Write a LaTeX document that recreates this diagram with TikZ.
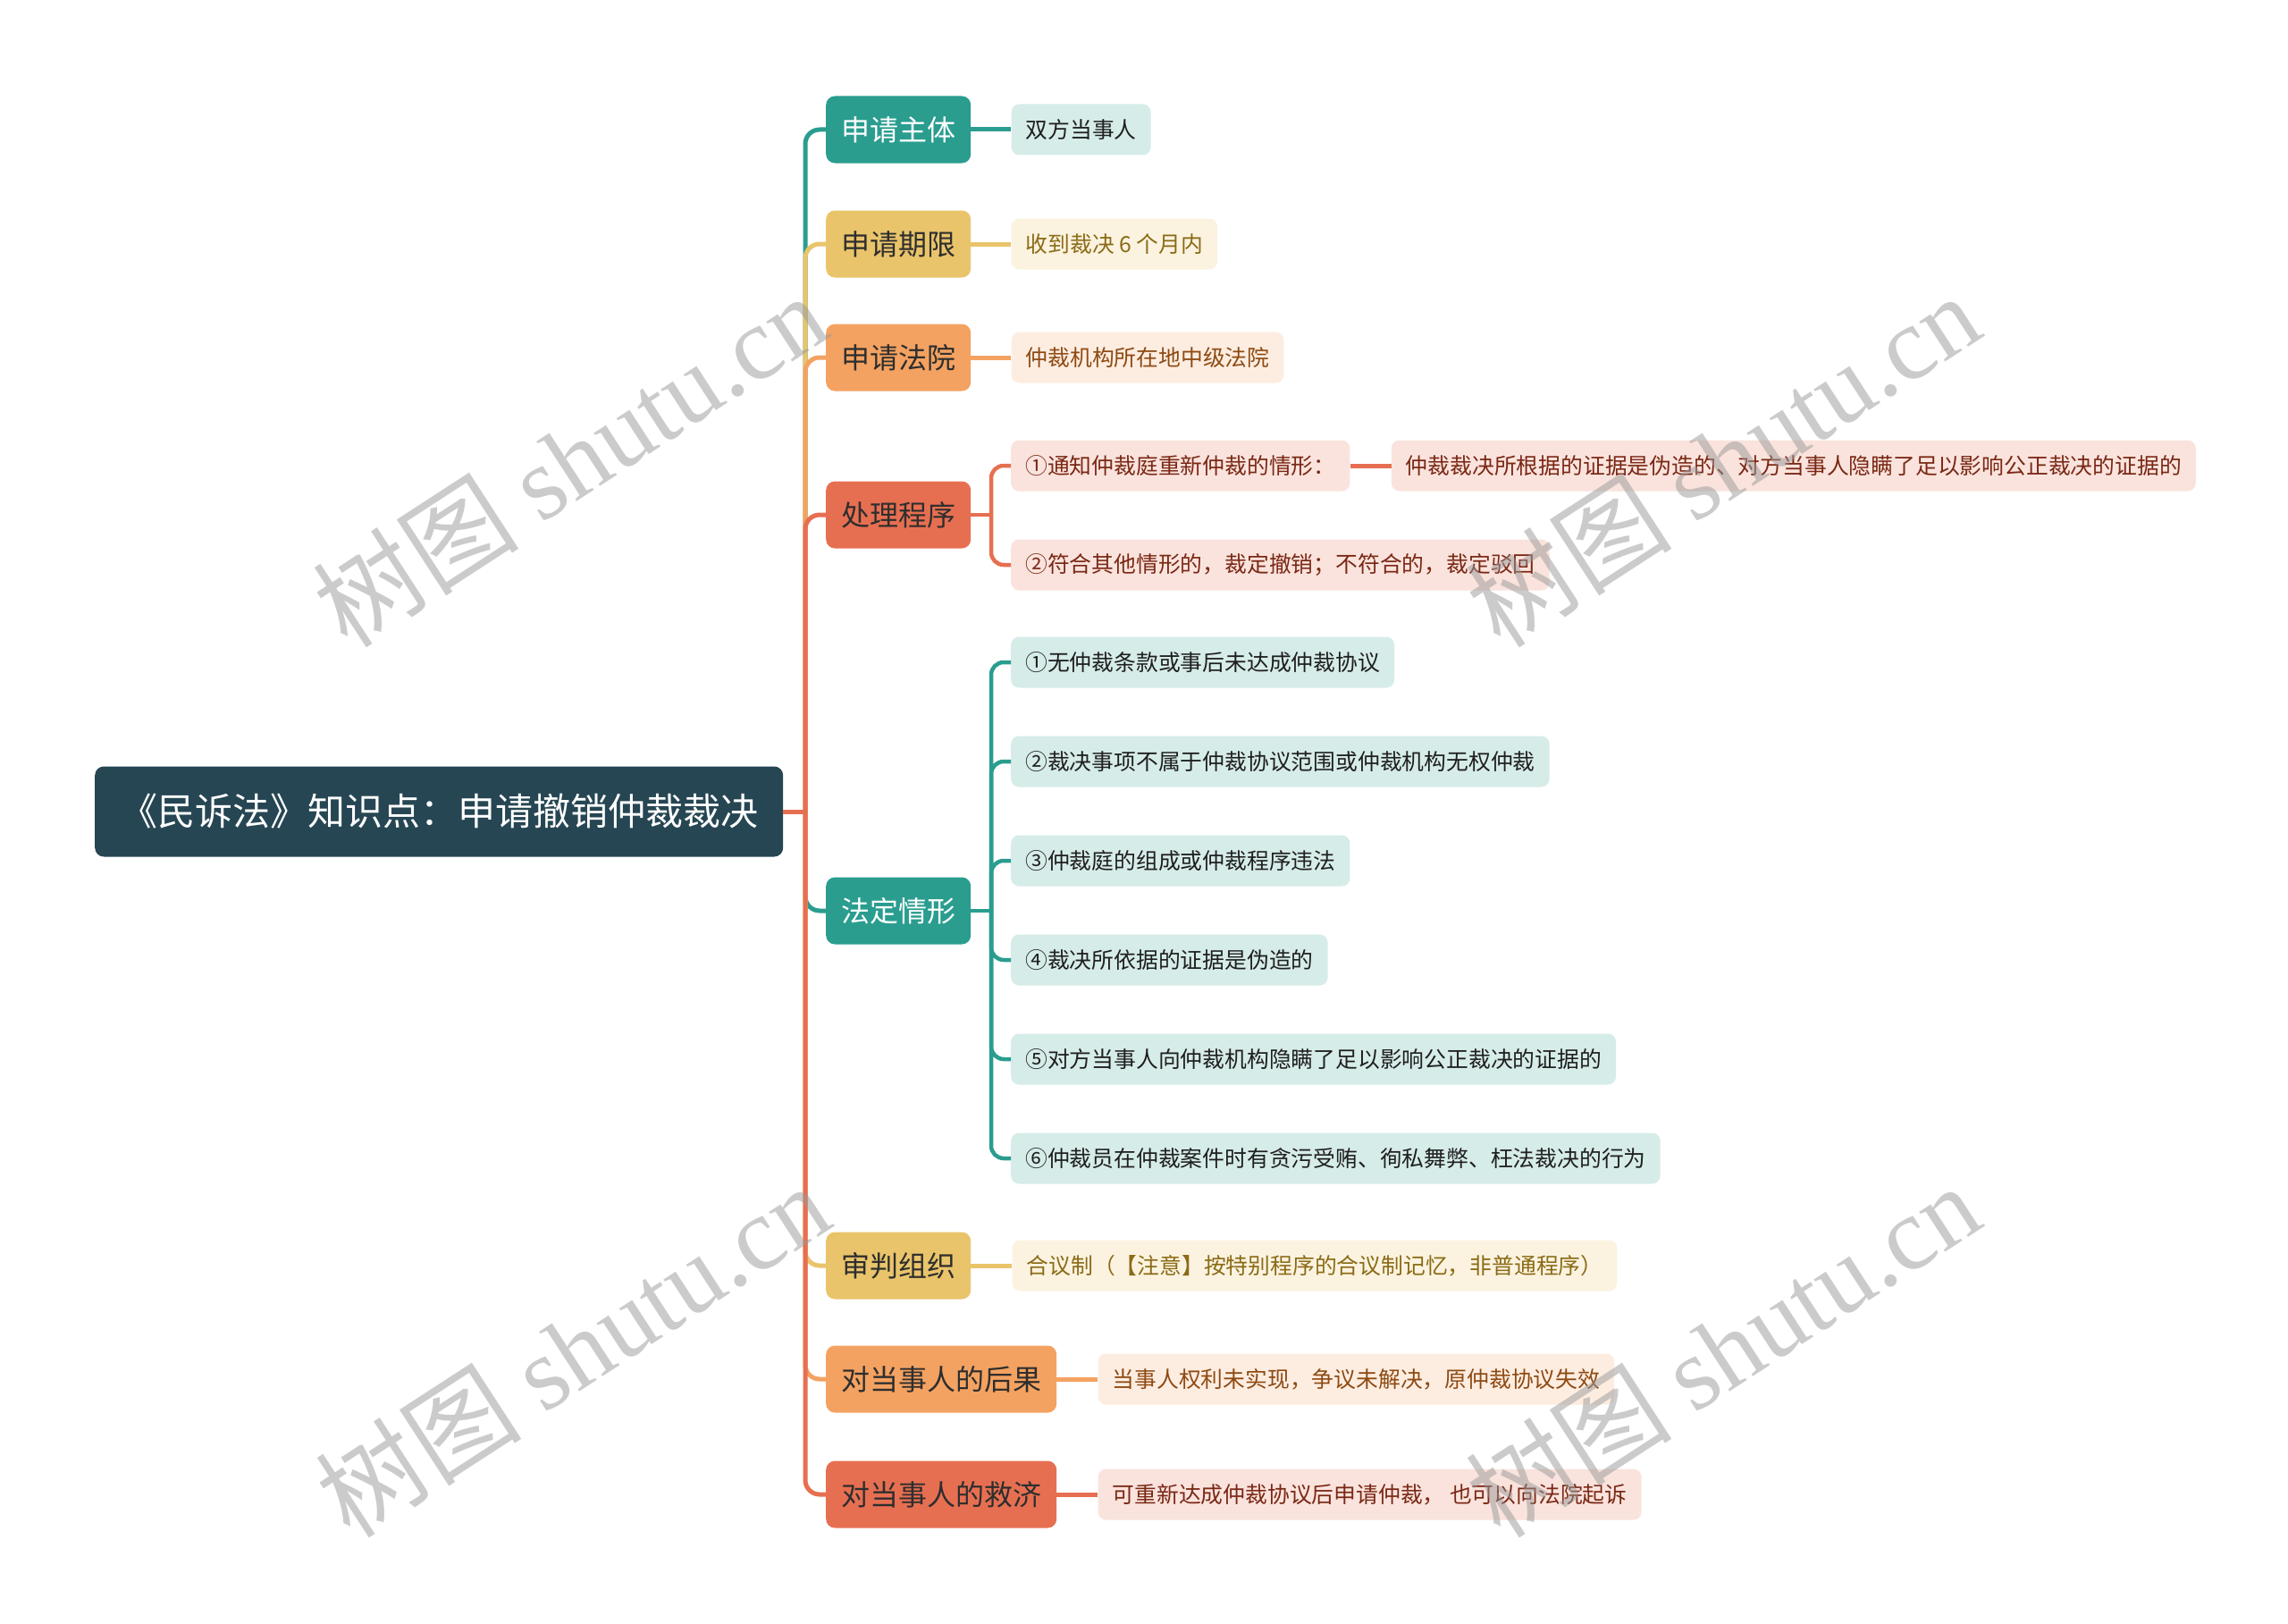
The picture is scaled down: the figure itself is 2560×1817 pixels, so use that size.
\documentclass[tikz,border=0pt]{standalone}
\usepackage{fontspec}
\setmainfont{Noto Sans CJK SC}
\newfontfamily\wmserif{Liberation Serif}
\definecolor{cRoot}{HTML}{264653}
\definecolor{cTeal}{HTML}{2A9D8F}
\definecolor{cYellow}{HTML}{E9C46A}
\definecolor{cOrange}{HTML}{F4A261}
\definecolor{cRed}{HTML}{E76F51}
\definecolor{fTeal}{HTML}{D6ECE9}
\definecolor{fYellow}{HTML}{FBF3E0}
\definecolor{fOrange}{HTML}{FDEDE1}
\definecolor{fRed}{HTML}{FAE3DD}
\definecolor{tTeal}{HTML}{1F1F1F}
\definecolor{tYellow}{HTML}{8B6B16}
\definecolor{tOrange}{HTML}{8E4A12}
\definecolor{tRed}{HTML}{7A2815}
\definecolor{tDark}{HTML}{2E2E2E}
\begin{document}
\begin{tikzpicture}[x=1pt,y=-1pt,
  rootbox/.style={fill=cRoot, text=white, rounded corners=10, minimum height=101, inner xsep=28, inner ysep=0, anchor=west, font=\fontsize{42}{42}\selectfont},
  lone/.style={rounded corners=10, minimum height=75, inner xsep=17, inner ysep=0, anchor=west, font=\fontsize{32}{32}\selectfont},
  lteal/.style={lone, fill=cTeal, text=white},
  lyellow/.style={lone, fill=cYellow, text=tDark},
  lorange/.style={lone, fill=cOrange, text=tDark},
  lred/.style={lone, fill=cRed, text=tDark},
  leaf/.style={rounded corners=9, minimum height=57, inner xsep=16, inner ysep=0, anchor=west, font=\fontsize{24.8}{26}\selectfont},
  leafteal/.style={leaf, fill=fTeal, text=tTeal},
  leafyellow/.style={leaf, fill=fYellow, text=tYellow},
  leaforange/.style={leaf, fill=fOrange, text=tOrange},
  leafred/.style={leaf, fill=fRed, text=tRed},
  conn/.style={line width=5, rounded corners=16},
  conntwo/.style={line width=4.5, rounded corners=14},
  wm/.style={text=black!40, opacity=0.5, rotate=33, font=\fontsize{116}{116}\selectfont}
]
\useasboundingbox (0,0) rectangle (2560,1817);
\fill[white] (0,0) rectangle (2560,1817);

% root
\node[rootbox] (root) at (106,908) {《民诉法》知识点：申请撤销仲裁裁决};

% level one
\node[lteal]   (a1) at (924,145)  {申请主体};
\node[lyellow] (a2) at (924,273)  {申请期限};
\node[lorange] (a3) at (924,400)  {申请法院};
\node[lred]    (a4) at (924,576)  {处理程序};
\node[lteal]   (a5) at (924,1019) {法定情形};
\node[lyellow] (a6) at (924,1416) {审判组织};
\node[lorange] (a7) at (924,1543) {对当事人的后果};
\node[lred]    (a8) at (924,1672) {对当事人的救济};

% leaves
\node[leafteal]   (b1) at ([xshift=45]a1.east) {双方当事人};
\node[leafyellow] (b2) at ([xshift=45]a2.east) {收到裁决 6 个月内};
\node[leaforange] (b3) at ([xshift=45]a3.east) {仲裁机构所在地中级法院};
\node[leafred] (c1) at (1131,521) {①通知仲裁庭重新仲裁的情形：};
\node[leafred] (c1x) at ([xshift=46]c1.east) {仲裁裁决所根据的证据是伪造的、对方当事人隐瞒了足以影响公正裁决的证据的};
\node[leafred] (c2) at (1131,632) {②符合其他情形的，裁定撤销；不符合的，裁定驳回};
\node[leafteal] (d1) at (1131,741)  {①无仲裁条款或事后未达成仲裁协议};
\node[leafteal] (d2) at (1131,852)  {②裁决事项不属于仲裁协议范围或仲裁机构无权仲裁};
\node[leafteal] (d3) at (1131,963)  {③仲裁庭的组成或仲裁程序违法};
\node[leafteal] (d4) at (1131,1074) {④裁决所依据的证据是伪造的};
\node[leafteal] (d5) at (1131,1185) {⑤对方当事人向仲裁机构隐瞒了足以影响公正裁决的证据的};
\node[leafteal] (d6) at (1131,1296) {⑥仲裁员在仲裁案件时有贪污受贿、徇私舞弊、枉法裁决的行为};
\node[leafyellow] (b6) at ([xshift=46]a6.east) {合议制（【注意】按特别程序的合议制记忆，非普通程序）};
\node[leaforange] (b7) at ([xshift=46]a7.east) {当事人权利未实现，争议未解决，原仲裁协议失效};
\node[leafred]    (b8) at ([xshift=46]a8.east) {可重新达成仲裁协议后申请仲裁， 也可以向法院起诉};

% junctions
\coordinate (j0) at (901,908);
\coordinate (j4) at (1109,576);
\coordinate (j5) at (1109,1019);

% level one connectors (in child order)
\draw[conn, cTeal]   (j0) |- (a1.west);
\draw[conn, cYellow] (j0) |- (a2.west);
\draw[conn, cOrange] (j0) |- (a3.west);
\draw[conn, cRed]    (j0) |- (a4.west);
\draw[conn, cTeal]   (j0) |- (a5.west);
\draw[conn, cYellow] (j0) |- (a6.west);
\draw[conn, cOrange] (j0) |- (a7.west);
\draw[conn, cRed]    (j0) |- (a8.west);
\draw[line width=5, cRed] (root.east) -- (j0);

% leaf connectors
\draw[line width=5, cTeal]   (a1.east) -- (b1.west);
\draw[line width=5, cYellow] (a2.east) -- (b2.west);
\draw[line width=5, cOrange] (a3.east) -- (b3.west);
\draw[line width=5, cYellow] (a6.east) -- (b6.west);
\draw[line width=5, cOrange] (a7.east) -- (b7.west);
\draw[line width=5, cRed]    (a8.east) -- (b8.west);
\draw[line width=5, cRed]    (c1.east) -- (c1x.west);

% level two connectors
\draw[line width=4.5, cRed] (a4.east) -- (j4);
\draw[conntwo, cRed] (j4) |- (c1.west);
\draw[conntwo, cRed] (j4) |- (c2.west);
\draw[line width=4.5, cTeal] (a5.east) -- (j5);
\foreach \n in {d1,d2,d3,d4,d5,d6}
  \draw[conntwo, cTeal] (j5) |- (\n.west);

% watermarks
\node[wm] (w1) at (637,514)  {树图 {\wmserif shutu.cn}};
\node[wm] (w2) at (1927,514) {树图 {\wmserif shutu.cn}};
\node[wm] (w3) at (640,1510) {树图 {\wmserif shutu.cn}};
\node[wm] (w4) at (1927,1510) {树图 {\wmserif shutu.cn}};
\end{tikzpicture}
\end{document}
